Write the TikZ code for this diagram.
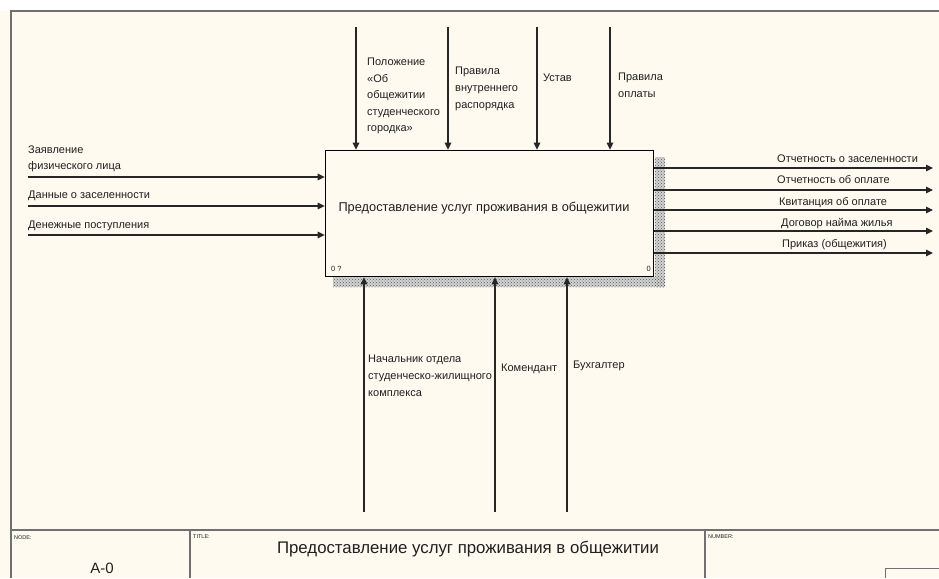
\documentclass[tikz,border=0pt]{standalone}
\usepackage{fontspec}
\setmainfont{Liberation Sans}
\usetikzlibrary{arrows.meta,patterns}
\definecolor{bg}{HTML}{FFFAF0}
\definecolor{framec}{HTML}{707070}
\definecolor{txt}{HTML}{202020}
\begin{document}
\begin{tikzpicture}[x=1pt,y=-1pt,
  arr/.style={line width=1.1pt,draw=black!85,-{Triangle[length=7pt,width=6.5pt]}},
  lbl/.style={inner sep=0pt,align=left,font=\fontsize{11}{16.8}\selectfont,text=txt},
  rlbl/.style={inner sep=0pt,anchor=base west,font=\fontsize{11}{13}\selectfont,text=txt},
  tiny/.style={inner sep=0pt,anchor=north west,font=\fontsize{5.5}{6}\selectfont,text=txt},
  framel/.style={draw=framec,line width=1.6pt}]
\useasboundingbox (0,0) rectangle (939,578);
\fill[white] (0,0) rectangle (939,578);
\fill[bg] (0,11) rectangle (939,578);
% outer frame
\draw[framel] (11,578) -- (11,11) -- (939,11);
\draw[framel] (11,530) -- (939,530);
\draw[framel] (190,530) -- (190,578);
\draw[framel] (705,530) -- (705,578);
\draw[draw=framec,line width=1pt] (885,578) -- (885,568) -- (939,568);
% title block texts
\node[tiny] (nodelbl) at (14,535) {NODE:};
\node[tiny] (titlelbl) at (193,535) {TITLE:};
\node[tiny] (numlbl) at (708,535) {NUMBER:};
\node[inner sep=0pt,font=\fontsize{15}{16}\selectfont,text=txt] (nodeid) at (102,568) {A-0};
\node[inner sep=0pt,font=\fontsize{16.8}{18}\selectfont,text=txt] (title) at (468,549) {Предоставление услуг проживания в общежитии};
% shadow
\fill[gray!35] (655,157) rectangle (665,287);
\fill[gray!35] (333,277) rectangle (665,287);
\fill[pattern=crosshatch dots,pattern color=gray!70!black] (655,157) rectangle (665,287);
\fill[pattern=crosshatch dots,pattern color=gray!70!black] (333,277) rectangle (665,287);
% main box
\node[draw=black,line width=1.6pt,fill=bg,minimum width=328pt,minimum height=126pt,inner sep=0pt] (box) at (489.5,213.5) {};
\node[inner sep=0pt,font=\fontsize{12.8}{14}\selectfont,text=txt] (boxtext) at (484,208) {Предоставление услуг проживания в общежитии};
\node[inner sep=0pt,anchor=south west,font=\fontsize{7.5}{8}\selectfont,text=txt] (cnl) at (331,272) {0 ?};
\node[inner sep=0pt,anchor=south east,font=\fontsize{7.5}{8}\selectfont,text=txt] (cnr) at (651,272) {0};
% controls
\coordinate (c1) at (356,27);
\coordinate (c2) at (448,27);
\coordinate (c3) at (537,27);
\coordinate (c4) at (610,27);
\foreach \c in {c1,c2,c3,c4} \draw[arr] (\c) -- (\c |- box.north);
\node[lbl,anchor=north west,font=\fontsize{11}{16.5}\selectfont] (lc1) at (367,58) {Положение\\«Об\\общежитии\\студенческого\\городка»};
\node[lbl,anchor=north west] (lc2) at (455,67) {Правила\\внутреннего\\распорядка};
\node[lbl,anchor=north west] (lc3) at (543,74) {Устав};
\node[lbl,anchor=north west] (lc4) at (618,73) {Правила\\оплаты};
% inputs
\coordinate (i1) at (28,177);
\coordinate (i2) at (28,206);
\coordinate (i3) at (28,235);
\foreach \c in {i1,i2,i3} \draw[arr] (\c) -- (\c -| box.west);
\node[lbl,anchor=north west,font=\fontsize{11}{16}\selectfont] (li1) at (28,146) {Заявление\\физического лица};
\node[lbl,anchor=north west] (li2) at (28,191) {Данные о заселенности};
\node[lbl,anchor=north west] (li3) at (28,221) {Денежные поступления};
% outputs
\coordinate (o1) at (933,168);
\coordinate (o2) at (933,190);
\coordinate (o3) at (933,210);
\coordinate (o4) at (933,231);
\coordinate (o5) at (933,253);
\foreach \c in {o1,o2,o3,o4,o5} \draw[arr] (\c -| box.east) -- (\c);
\node[rlbl] (lo1) at (777,162) {Отчетность о заселенности};
\node[rlbl] (lo2) at (777,183) {Отчетность об оплате};
\node[rlbl] (lo3) at (779,205) {Квитанция об оплате};
\node[rlbl] (lo4) at (781,226) {Договор найма жилья};
\node[rlbl] (lo5) at (782,247) {Приказ (общежития)};
% mechanisms
\coordinate (m1) at (364,512);
\coordinate (m2) at (495,512);
\coordinate (m3) at (567,512);
\foreach \c in {m1,m2,m3} \draw[arr] (\c) -- (\c |- box.south);
\node[lbl,anchor=north west] (lm1) at (368,355) {Начальник отдела\\студенческо-жилищного\\комплекса};
\node[lbl,anchor=north west] (lm2) at (501,364) {Комендант};
\node[lbl,anchor=north west] (lm3) at (573,361) {Бухгалтер};
\end{tikzpicture}
\end{document}
